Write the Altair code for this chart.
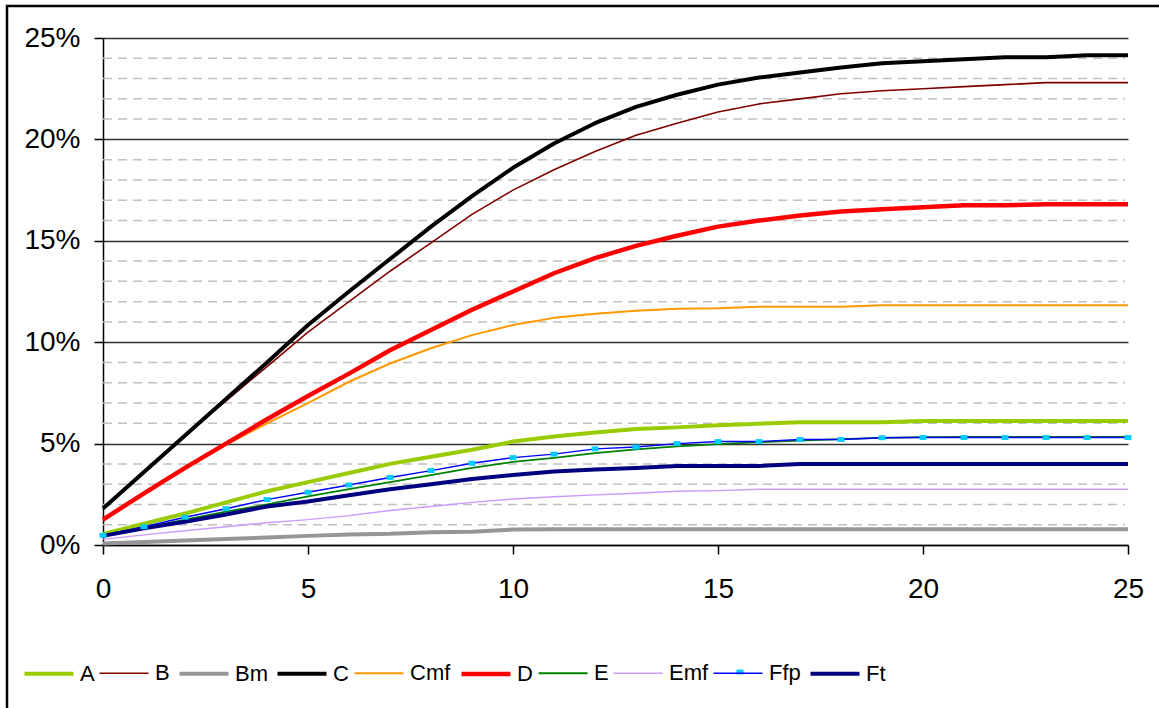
import altair as alt
import pandas as pd

# ---- data ----
x_vals = list(range(26))
series_names = ["A", "B", "Bm", "C", "Cmf", "D", "E", "Emf", "Ffp", "Ft"]

A = [0.55, 1.05, 1.55, 2.1, 2.65, 3.1, 3.55, 4.0, 4.35, 4.7, 5.1, 5.35, 5.55, 5.72, 5.8,
     5.9, 5.98, 6.05, 6.05, 6.05, 6.12, 6.12, 6.12, 6.12, 6.12, 6.12]
B = [1.8, 3.6, 5.4, 7.1, 8.8, 10.5, 12.0, 13.5, 14.9, 16.3, 17.5, 18.5, 19.4, 20.2, 20.8,
     21.35, 21.75, 22.0, 22.25, 22.4, 22.5, 22.6, 22.7, 22.8, 22.8, 22.8]
Bm = [0.08, 0.15, 0.22, 0.3, 0.37, 0.45, 0.52, 0.55, 0.63, 0.65, 0.76, 0.78, 0.78, 0.78, 0.78,
      0.78, 0.78, 0.78, 0.78, 0.78, 0.78, 0.78, 0.78, 0.78, 0.78, 0.78]
C = [1.8, 3.6, 5.4, 7.2, 9.0, 10.85, 12.5, 14.1, 15.7, 17.2, 18.6, 19.8, 20.8, 21.6, 22.2,
     22.7, 23.05, 23.3, 23.55, 23.75, 23.85, 23.95, 24.05, 24.05, 24.15, 24.15]
Cmf = [1.25, 2.55, 3.8, 4.95, 6.0, 7.0, 8.05, 8.95, 9.7, 10.35, 10.85, 11.2, 11.4, 11.55, 11.65,
       11.67, 11.75, 11.75, 11.75, 11.82, 11.82, 11.82, 11.82, 11.82, 11.82, 11.82]
D = [1.25, 2.55, 3.8, 5.0, 6.2, 7.35, 8.45, 9.6, 10.6, 11.6, 12.5, 13.4, 14.15, 14.75, 15.25,
     15.7, 16.0, 16.25, 16.45, 16.55, 16.65, 16.75, 16.75, 16.8, 16.8, 16.8]
E = [0.45, 0.85, 1.25, 1.65, 2.0, 2.4, 2.75, 3.1, 3.45, 3.8, 4.1, 4.3, 4.53, 4.72, 4.86,
     4.97, 5.07, 5.15, 5.22, 5.28, 5.32, 5.33, 5.33, 5.33, 5.33, 5.33]
Emf = [0.28, 0.5, 0.7, 0.9, 1.1, 1.25, 1.45, 1.7, 1.9, 2.1, 2.27, 2.38, 2.47, 2.55, 2.65,
       2.68, 2.75, 2.75, 2.75, 2.75, 2.75, 2.75, 2.75, 2.75, 2.75, 2.75]
Ffp = [0.48, 0.9, 1.37, 1.79, 2.24, 2.6, 2.96, 3.33, 3.67, 4.03, 4.31, 4.48, 4.74, 4.83, 5.0,
       5.1, 5.1, 5.2, 5.2, 5.29, 5.3, 5.3, 5.3, 5.3, 5.3, 5.3]
Ft = [0.45, 0.82, 1.15, 1.5, 1.9, 2.15, 2.45, 2.75, 3.0, 3.25, 3.45, 3.62, 3.72, 3.8, 3.9,
      3.9, 3.9, 4.0, 4.0, 4.0, 4.0, 4.0, 4.0, 4.0, 4.0, 4.0]

series_values = [A, B, Bm, C, Cmf, D, E, Emf, Ffp, Ft]
colors = ["#99CC00", "#800000", "#969696", "#000000", "#FF9900",
          "#FF0000", "#008000", "#CC99FF", "#0000FF", "#000080"]
widths = [4, 1.6, 4, 4, 2, 4.5, 1.8, 1.4, 1.4, 4]

x_ticks = [0, 5, 10, 15, 20, 25]
y_major = [0, 5, 10, 15, 20, 25]
y_minor = [v for v in range(1, 25) if v % 5 != 0]

rows = []
for name, vals in zip(series_names, series_values):
    for xv, yv in zip(x_vals, vals):
        rows.append({"x": xv, "v": yv, "series": name})
df = pd.DataFrame(rows)
df_ffp = df[df.series == "Ffp"]
df_minor = pd.DataFrame({"v": y_minor})

FONT = "Liberation Sans"
MARKER = "M-1,-0.7H1V0.7H-1Z"

xscale = alt.Scale(domain=[0, 25], nice=False, zero=False)
yscale = alt.Scale(domain=[0, 25], nice=False)

xaxis = alt.Axis(values=x_ticks, grid=False, labelPadding=21, labelFlush=False,
                 domainColor="black", domainWidth=1.5,
                 tickColor="black", tickWidth=1.5, tickSize=9,
                 labelFont=FONT, labelFontSize=28, labelColor="black")
yaxis = alt.Axis(values=y_major, grid=True, gridColor="#333333", gridWidth=1.5,
                 labelExpr="datum.value + '%'", labelPadding=14, labelFlush=False,
                 domainColor="black", domainWidth=1.5,
                 tickColor="black", tickWidth=1.5, tickSize=9,
                 labelFont=FONT, labelFontSize=28, labelColor="black")

legend = alt.Legend(
    title=None, orient="none", direction="horizontal", columns=10,
    legendX=-81, legendY=609, symbolType="stroke", symbolSize=2400,
    labelFont=FONT, labelFontSize=22, labelColor="black",
    labelOffset=4, columnPadding=1, padding=0,
)

minor = alt.Chart(df_minor).mark_rule(
    color="#C0C0C0", strokeWidth=1.5, strokeDash=[9, 6]
).encode(
    y=alt.Y("v:Q", scale=yscale, axis=yaxis, title=None),
    x=alt.value(0), x2=alt.value(1022),
)

lines = alt.Chart(df).mark_line(strokeJoin="round").encode(
    x=alt.X("x:Q", scale=xscale, title=None, axis=xaxis),
    y=alt.Y("v:Q", scale=yscale, title=None, axis=yaxis),
    color=alt.Color("series:N", scale=alt.Scale(domain=series_names, range=colors),
                    legend=legend, sort=series_names),
    strokeWidth=alt.StrokeWidth("series:N",
                                scale=alt.Scale(type="ordinal", domain=series_names, range=widths),
                                legend=legend, sort=series_names),
)

markers = alt.Chart(df_ffp).mark_point(
    shape=MARKER, filled=True, color="#00CCFF", opacity=1, size=49
).encode(
    x=alt.X("x:Q", scale=xscale, title=None, axis=xaxis),
    y=alt.Y("v:Q", scale=yscale, title=None, axis=yaxis),
)

# marker glyph on the Ffp legend entry
legend_marker = alt.Chart(alt.Data(values=[{"k": 1}])).mark_point(
    shape=MARKER, filled=True, color="#00CCFF", opacity=1, size=49
).encode(x=alt.value(637), y=alt.value(634))

frame = alt.Chart(alt.Data(values=[{"k": 1}])).mark_rect(
    fill=None, stroke="black", strokeWidth=2.5
).encode(
    x=alt.value(-96), x2=alt.value(1100), y=alt.value(-32), y2=alt.value(720)
)

chart = alt.layer(minor, lines, markers, legend_marker, frame).properties(
    width=1025, height=507,
    padding={"left": 103, "top": 38, "right": 31, "bottom": 163},
    autosize=alt.AutoSizeParams(type="none"),
    background="white",
).configure_view(stroke=None)

chart.save("out.html", embed_options={"renderer": "svg", "actions": False})
